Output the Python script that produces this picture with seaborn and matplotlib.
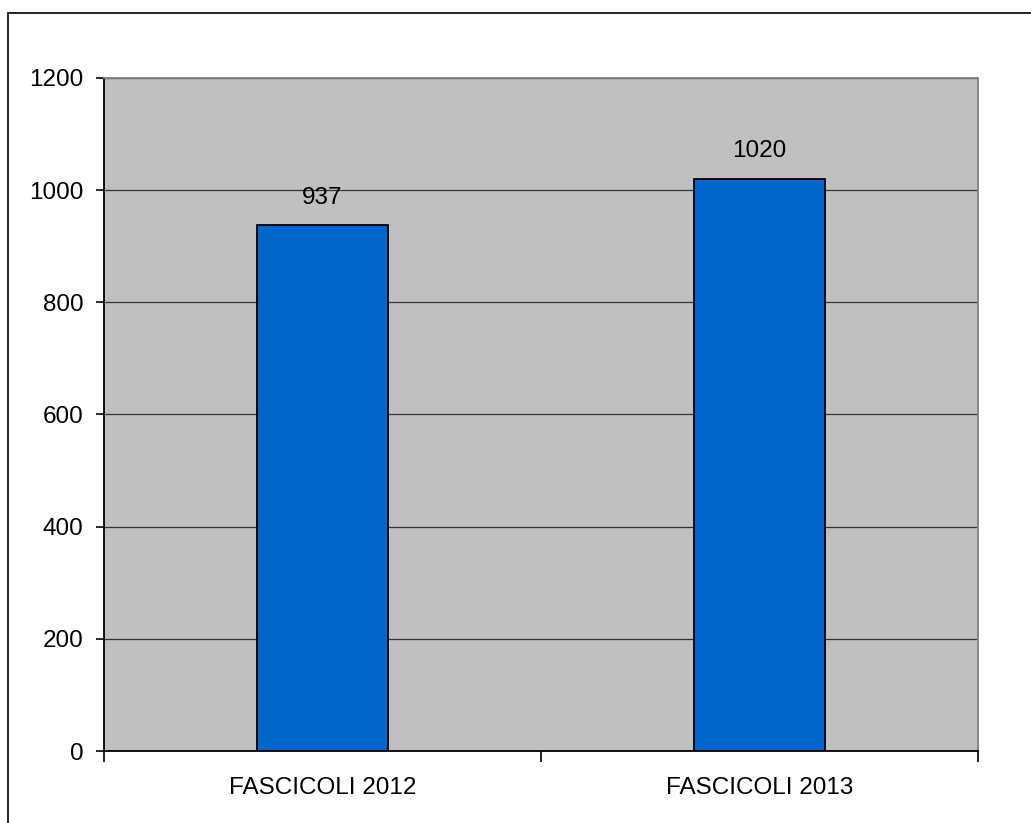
import matplotlib
matplotlib.use("Agg")
import matplotlib.pyplot as plt
import seaborn as sns
import pandas as pd
from matplotlib.patches import Rectangle

categories = ["FASCICOLI 2012", "FASCICOLI 2013"]
values = [937, 1020]
yticks = [0, 200, 400, 600, 800, 1000, 1200]

sns.set_style("white")
plt.rcParams['font.family'] = ['Liberation Sans', 'DejaVu Sans']
plt.rcParams['text.color'] = 'black'
plt.rcParams['xtick.color'] = 'black'
plt.rcParams['ytick.color'] = 'black'
plt.rcParams['xtick.labelcolor'] = 'black'
plt.rcParams['ytick.labelcolor'] = 'black'

fig = plt.figure(figsize=(10.31, 8.23), dpi=100)
ax = fig.add_axes([104/1031, 1-751/823, (978-104)/1031, (751-78)/823])

df = pd.DataFrame({"cat": categories, "val": values})
sns.barplot(data=df, x="cat", y="val", color="#0066CC", edgecolor="black",
            linewidth=1.3, width=0.3, saturation=1, ax=ax, zorder=3)

ax.set_facecolor("#C0C0C0")
ax.set_ylim(0, 1200)
ax.set_xlim(-0.5, 1.5)
ax.set_yticks(yticks)
ax.yaxis.grid(True, color="#333333", linewidth=0.9, zorder=0)
ax.set_axisbelow(True)
ax.set_xlabel("")
ax.set_ylabel("")

for lbl in ["top", "right"]:
    ax.spines[lbl].set_color("#808080")
    ax.spines[lbl].set_linewidth(1.3)
for lbl in ["left", "bottom"]:
    ax.spines[lbl].set_color("black")
    ax.spines[lbl].set_linewidth(1.3)

ax.tick_params(axis="y", which="major", length=6, width=1.2, color="black",
               labelsize=17.5, pad=9, left=True, labelcolor="black")
ax.tick_params(axis="x", which="major", length=0, labelsize=17.5, pad=19, labelcolor="black")
ax.set_xticks([-0.5, 0.5, 1.5], minor=True)
ax.tick_params(axis="x", which="minor", length=8, width=1.2, color="black", bottom=True)

for c in ax.containers:
    ax.bar_label(c, labels=[str(v) for v in values], padding=12, fontsize=17.5, color="black")

fig.patches.append(Rectangle((8/1031, -0.1), 1.2, 1-13/823+0.1, transform=fig.transFigure,
                             fill=False, edgecolor="black", linewidth=1.2))

fig.savefig("out.png", dpi=100)
